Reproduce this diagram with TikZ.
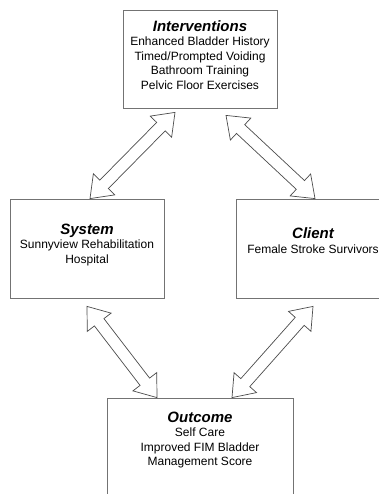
\documentclass[tikz,border=0pt]{standalone}
\usepackage{fontspec}
\setmainfont{Liberation Sans}
\usetikzlibrary{calc}

\tikzset{
  box/.style={draw=black!55, line width=0.8pt, rectangle, minimum width=154pt, minimum height=99pt, inner sep=0pt},
  boxtext/.style={align=center, font=\fontsize{12}{14.5}\selectfont, inner sep=0pt},
  arrowline/.style={draw=black!70, line width=0.7pt, fill=white, line join=miter}
}
\newcommand\headtitle[1]{{\fontsize{15}{16}\selectfont\bfseries\itshape #1}}
% hollow two-headed arrow between two points
\newcommand\twoway[2]{%
  \draw[arrowline] (#1)
    -- ($(#1)!20pt!(#2)!15pt!90:(#2)$) -- ($(#1)!20pt!(#2)!6pt!90:(#2)$)
    -- ($(#2)!20pt!(#1)!6pt!-90:(#1)$) -- ($(#2)!20pt!(#1)!15pt!-90:(#1)$)
    -- (#2)
    -- ($(#2)!20pt!(#1)!15pt!90:(#1)$) -- ($(#2)!20pt!(#1)!6pt!90:(#1)$)
    -- ($(#1)!20pt!(#2)!6pt!-90:(#2)$) -- ($(#1)!20pt!(#2)!15pt!-90:(#2)$)
    -- cycle;}

\begin{document}
\begin{tikzpicture}[x=1pt, y=-1pt]
  \useasboundingbox[fill=white] (0,0) rectangle (379,494);

  % boxes
  \node[box, minimum height=98pt] (int) at (200,59) {};
  \node[box] (sys) at (87,248.5) {};
  \node[box] (cli) at (313,248.5) {};
  \node[box, minimum width=186pt, minimum height=110pt] (out) at (200,453) {};

  % texts
  \node[boxtext] (inttext) at ([yshift=4pt]int.center)
    {\headtitle{Interventions}\\Enhanced Bladder History\\Timed/Prompted Voiding\\Bathroom Training\\Pelvic Floor Exercises};
  \node[boxtext] (systext) at ([yshift=3.5pt]sys.center)
    {\headtitle{System}\\Sunnyview Rehabilitation\\Hospital};
  \node[boxtext] (clitext) at ([yshift=8pt]cli.center)
    {\headtitle{Client}\\Female Stroke Survivors};
  \node[boxtext] (outtext) at ([yshift=13pt]out.center)
    {\headtitle{Outcome}\\Self Care\\Improved FIM Bladder\\Management Score};

  % arrow ends
  \coordinate (i1) at ([xshift=-25pt,yshift=-4pt]int.south);
  \coordinate (i2) at ([xshift=26pt,yshift=-7pt]int.south);
  \coordinate (s1) at ([xshift=3pt]sys.north);
  \coordinate (s2) at ([yshift=-8pt]sys.south);
  \coordinate (c1) at ([xshift=2pt]cli.north);
  \coordinate (c2) at ([yshift=-8pt]cli.south);
  \coordinate (o1) at ([xshift=-43pt]out.north);
  \coordinate (o2) at ([xshift=32pt]out.north);

  \twoway{i1}{s1}
  \twoway{i2}{c1}
  \twoway{s2}{o1}
  \twoway{c2}{o2}
\end{tikzpicture}
\end{document}
